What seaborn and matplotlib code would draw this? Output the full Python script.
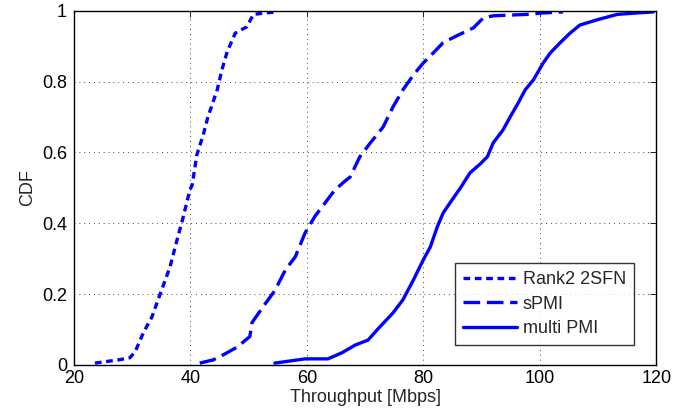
import matplotlib
matplotlib.use("Agg")
from matplotlib import pyplot as plt
import pandas as pd
import seaborn as sns

# ------------------------------- Data ---------------------------------------------------------
rank2_x = [23.6, 27.6, 29.6, 30.5, 31.9, 33.4, 34.8, 36.5, 37.7, 38.8, 39.9, 40.3, 41.1, 42.2, 43.0,
           44.6, 45.4, 46.3, 47.7, 49.7, 50.8, 52.8, 54.9]
rank2_y = [0.005, 0.014, 0.02, 0.037, 0.09, 0.136, 0.20, 0.277, 0.353, 0.42, 0.494, 0.508, 0.593, 0.65, 0.70,
           0.777, 0.833, 0.884, 0.937, 0.955, 0.99, 0.994, 0.997]

spmi_x = [41.6, 43.9, 45.6, 48.0, 50.2, 50.6, 52.3, 54.5, 56.3, 58.0, 59.7, 61.4, 63.1, 64.8, 66.6,
          67.4, 69.1, 70.9, 73.1, 74.8, 76.5, 78.3, 80.0, 81.7, 83.4, 85.8, 88.6, 90.3, 92.0,
          97.8, 100.6, 104.0]
spmi_y = [0.005, 0.014, 0.028, 0.05, 0.08, 0.12, 0.16, 0.21, 0.268, 0.305, 0.373, 0.42, 0.457, 0.494, 0.52,
          0.53, 0.588, 0.627, 0.672, 0.729, 0.777, 0.819, 0.853, 0.881, 0.91, 0.93, 0.952, 0.98, 0.986,
          0.99, 0.994, 0.997]

multi_x = [54.5, 59.7, 63.6, 66.0, 68.3, 70.5, 72.4, 74.8, 76.5, 78.3, 80.0, 81.2, 82.4, 83.4, 84.6,
           86.5, 88.0, 89.8, 91.0, 92.0, 93.7, 94.9, 96.3, 97.5, 98.9, 100.6, 101.8, 103.5, 105.2,
           106.9, 109.9, 113.3, 116.7, 119.5]
multi_y = [0.005, 0.017, 0.017, 0.034, 0.056, 0.07, 0.105, 0.147, 0.184, 0.24, 0.297, 0.333, 0.39, 0.429, 0.458,
           0.503, 0.542, 0.568, 0.588, 0.627, 0.664, 0.70, 0.74, 0.777, 0.805, 0.853, 0.881, 0.91, 0.937,
           0.96, 0.975, 0.99, 0.994, 0.997]

labels = ["Rank2 2SFN", "sPMI", "multi PMI"]
x_ticks = [20, 40, 60, 80, 100, 120]
y_ticks = [0, 0.2, 0.4, 0.6, 0.8, 1]
y_tick_labels = ["0", "0.2", "0.4", "0.6", "0.8", "1"]

# ------------------------------- Style --------------------------------
sns.set_style("white")
plt.rcParams["font.family"] = ["Liberation Sans", "DejaVu Sans"]
plt.rcParams["font.size"] = 13

fig = plt.figure(figsize=(6.85, 4.17), dpi=100)
ax = fig.add_axes([0.108, 0.125, 0.850, 0.849])

series = [(rank2_x, rank2_y, (0, (2, 1.4))),
          (spmi_x, spmi_y, (0, (5, 2))),
          (multi_x, multi_y, "-")]

for (xs, ys, ls), label in zip(series, labels):
    df = pd.DataFrame({"x": xs, "y": ys})
    sns.lineplot(data=df, x="x", y="y", ax=ax, sort=False, estimator=None,
                 color="#0000ff", linewidth=2.4, linestyle=ls, label=label)

ax.set_xlim(20, 120)
ax.set_ylim(0, 1)
ax.set_xticks(x_ticks)
ax.set_yticks(y_ticks)
ax.set_yticklabels(y_tick_labels)
ax.set_xlabel("Throughput [Mbps]", fontsize=13, labelpad=1)
ax.set_ylabel("CDF", fontsize=13, labelpad=4)
ax.tick_params(direction="in", length=4, width=0.6, top=True, right=True,
               labelsize=13, colors="black")
ax.tick_params(axis="x", pad=4)
ax.tick_params(axis="y", pad=5)
ax.grid(True, linestyle=(0, (1, 4)), color="#444444", linewidth=0.7)
for spine in ax.spines.values():
    spine.set_visible(True)
    spine.set_color("black")
    spine.set_linewidth(1.0)

leg = ax.legend(loc="lower right", bbox_to_anchor=(0.962, 0.056), borderaxespad=0,
                fontsize=13, frameon=True, fancybox=False, handlelength=3.0,
                handletextpad=0.3, labelspacing=0.4, borderpad=0.45)
leg.get_frame().set_edgecolor("black")
leg.get_frame().set_linewidth(1.0)

fig.savefig("out.png", dpi=100)
